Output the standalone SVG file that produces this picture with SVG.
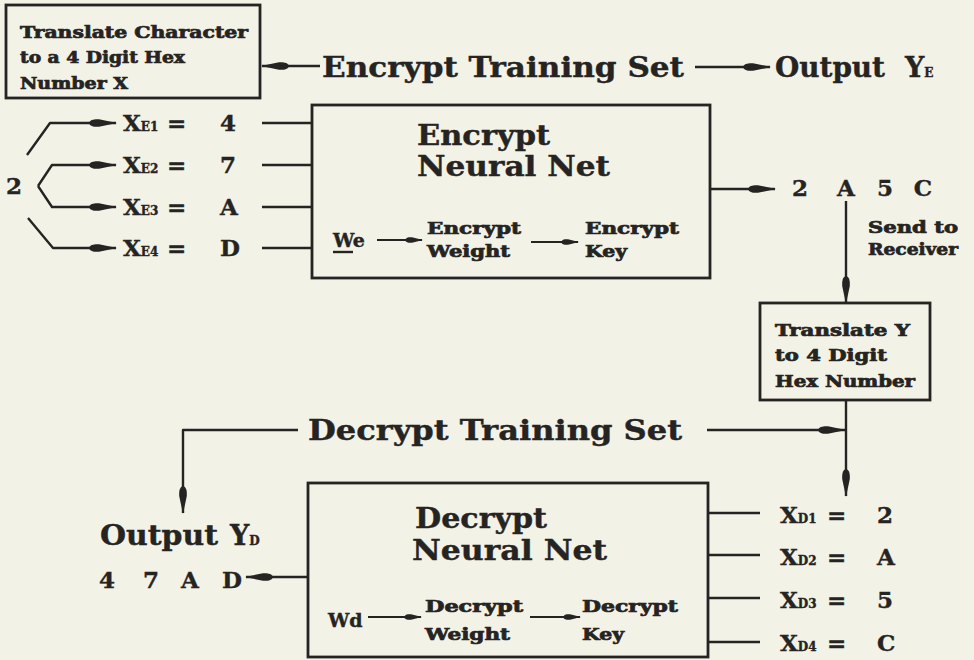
<svg xmlns="http://www.w3.org/2000/svg" width="974" height="660" viewBox="0 0 974 660">
<defs>
<marker id="ah" markerUnits="userSpaceOnUse" viewBox="0 0 28 10" markerWidth="28" markerHeight="10" refX="27" refY="5" orient="auto">
<path d="M0,5 C1,1.5 5,1 10,1.2 L28,5 L10,8.8 C5,9 1,8.5 0,5 Z" fill="#262422"/>
</marker>
<marker id="ahs" markerUnits="userSpaceOnUse" viewBox="0 0 18 8" markerWidth="18" markerHeight="8" refX="17" refY="4" orient="auto">
<path d="M0,4 C1,1.2 4,1 7,1.2 L18,4 L7,6.8 C4,7 1,6.8 0,4 Z" fill="#262422"/>
</marker>
<style>
.bg{fill:#f3f2e7}
.box{fill:none;stroke:#262422;stroke-width:2.8}
.ln{fill:none;stroke:#262422;stroke-width:2.4;stroke-linejoin:round}
.arr{fill:none;stroke:#262422;stroke-width:2.4;stroke-linejoin:round;marker-end:url(#ah)}
.arrs{fill:none;stroke:#262422;stroke-width:2.2;marker-end:url(#ahs)}
text{font-family:"DejaVu Serif","Liberation Serif",serif;font-weight:bold;fill:#262422;stroke:#262422;stroke-width:0.4}
.big{font-size:27px}
.mid{font-size:23px}
.sm{font-size:16px;stroke-width:0.7}
.sub{font-size:12px}
</style>
</defs>
<rect class="bg" x="0" y="0" width="974" height="660"/>

<g id="translate-character">
<rect class="box" x="6" y="5" width="254" height="93"/>
<text class="sm" x="20" y="38" textLength="228" lengthAdjust="spacingAndGlyphs">Translate Character</text>
<text class="sm" x="20" y="63" textLength="165" lengthAdjust="spacingAndGlyphs">to a 4 Digit Hex</text>
<text class="sm" x="20" y="89" textLength="108" lengthAdjust="spacingAndGlyphs">Number X</text>
</g>

<g id="encrypt-training-set">
<text class="big" x="322" y="77" textLength="362" lengthAdjust="spacingAndGlyphs">Encrypt Training Set</text>
</g>

<g id="output-ye">
<text class="big" x="775" y="77" textLength="110" lengthAdjust="spacingAndGlyphs">Output</text>
<text class="big" x="905" y="77">Y<tspan class="sub">E</tspan></text>
</g>

<g id="encrypt-inputs">
<text class="mid" x="6" y="194">2</text>
<text class="mid" x="123" y="131">X<tspan class="sub">E1</tspan></text>
<text class="mid" x="167" y="131">=</text>
<text class="mid" x="220" y="131">4</text>
<text class="mid" x="123" y="173">X<tspan class="sub">E2</tspan></text>
<text class="mid" x="167" y="173">=</text>
<text class="mid" x="220" y="173">7</text>
<text class="mid" x="123" y="215">X<tspan class="sub">E3</tspan></text>
<text class="mid" x="167" y="215">=</text>
<text class="mid" x="220" y="215">A</text>
<text class="mid" x="123" y="256">X<tspan class="sub">E4</tspan></text>
<text class="mid" x="167" y="256">=</text>
<text class="mid" x="220" y="256">D</text>
</g>

<g id="encrypt-neural-net">
<rect class="box" x="312" y="105" width="398" height="173"/>
<text class="big" x="417" y="145" textLength="133" lengthAdjust="spacingAndGlyphs">Encrypt</text>
<text class="big" x="417" y="176" textLength="193" lengthAdjust="spacingAndGlyphs">Neural Net</text>
<text x="333" y="247" font-size="19">We</text>
<line class="ln" x1="333" y1="252" x2="353" y2="252"/>
<text class="sm" x="427" y="234" textLength="94" lengthAdjust="spacingAndGlyphs">Encrypt</text>
<text class="sm" x="427" y="257" textLength="83" lengthAdjust="spacingAndGlyphs">Weight</text>
<text class="sm" x="585" y="234" textLength="94" lengthAdjust="spacingAndGlyphs">Encrypt</text>
<text class="sm" x="585" y="257" textLength="42" lengthAdjust="spacingAndGlyphs">Key</text>
</g>

<g id="cipher-output">
<text class="mid" x="800" y="196" text-anchor="middle">2</text>
<text class="mid" x="846" y="196" text-anchor="middle">A</text>
<text class="mid" x="885" y="196" text-anchor="middle">5</text>
<text class="mid" x="923" y="196" text-anchor="middle">C</text>
</g>

<g id="send-to-receiver">
<text class="sm" x="868" y="233" textLength="90" lengthAdjust="spacingAndGlyphs">Send to</text>
<text class="sm" x="868" y="255" textLength="90" lengthAdjust="spacingAndGlyphs">Receiver</text>
</g>

<g id="translate-y">
<rect class="box" x="760" y="303" width="170" height="97"/>
<text class="sm" x="775" y="336" textLength="135" lengthAdjust="spacingAndGlyphs">Translate Y</text>
<text class="sm" x="775" y="361" textLength="112" lengthAdjust="spacingAndGlyphs">to 4 Digit</text>
<text class="sm" x="775" y="387" textLength="140" lengthAdjust="spacingAndGlyphs">Hex Number</text>
</g>

<g id="decrypt-training-set">
<text class="big" x="308" y="440" textLength="374" lengthAdjust="spacingAndGlyphs">Decrypt Training Set</text>
</g>

<g id="output-yd">
<text class="big" x="100" y="545" textLength="118" lengthAdjust="spacingAndGlyphs">Output</text>
<text class="big" x="230" y="545">Y<tspan class="sub">D</tspan></text>
<text class="mid" x="107" y="588" text-anchor="middle">4</text>
<text class="mid" x="151" y="588" text-anchor="middle">7</text>
<text class="mid" x="190" y="588" text-anchor="middle">A</text>
<text class="mid" x="232" y="588" text-anchor="middle">D</text>
</g>

<g id="decrypt-neural-net">
<rect class="box" x="308" y="483" width="400" height="174"/>
<text class="big" x="415" y="528" textLength="132" lengthAdjust="spacingAndGlyphs">Decrypt</text>
<text class="big" x="412" y="560" textLength="195" lengthAdjust="spacingAndGlyphs">Neural Net</text>
<text x="328" y="627" font-size="19">Wd</text>
<text class="sm" x="425" y="612" textLength="98" lengthAdjust="spacingAndGlyphs">Decrypt</text>
<text class="sm" x="425" y="640" textLength="85" lengthAdjust="spacingAndGlyphs">Weight</text>
<text class="sm" x="582" y="612" textLength="96" lengthAdjust="spacingAndGlyphs">Decrypt</text>
<text class="sm" x="582" y="640" textLength="42" lengthAdjust="spacingAndGlyphs">Key</text>
</g>

<g id="decrypt-inputs">
<text class="mid" x="780" y="523">X<tspan class="sub">D1</tspan></text>
<text class="mid" x="827" y="523">=</text>
<text class="mid" x="877" y="523">2</text>
<text class="mid" x="780" y="565">X<tspan class="sub">D2</tspan></text>
<text class="mid" x="827" y="565">=</text>
<text class="mid" x="877" y="565">A</text>
<text class="mid" x="780" y="608">X<tspan class="sub">D3</tspan></text>
<text class="mid" x="827" y="608">=</text>
<text class="mid" x="877" y="608">5</text>
<text class="mid" x="780" y="651">X<tspan class="sub">D4</tspan></text>
<text class="mid" x="827" y="651">=</text>
<text class="mid" x="877" y="651">C</text>
</g>

<g id="connectors">
<line class="arr" x1="320" y1="66" x2="262" y2="66"/>
<line class="arr" x1="695" y1="67" x2="770" y2="67"/>
<path class="arr" d="M27,155 L50,123 L116,123"/>
<path class="arr" d="M38,186 L52,165 L116,165"/>
<path class="arr" d="M38,186 L52,207 L116,207"/>
<path class="arr" d="M28,218 L53,248 L116,248"/>
<line class="ln" x1="262" y1="123" x2="312" y2="123"/>
<line class="ln" x1="262" y1="165" x2="312" y2="165"/>
<line class="ln" x1="262" y1="207" x2="312" y2="207"/>
<line class="ln" x1="262" y1="248" x2="312" y2="248"/>
<line class="arrs" x1="377" y1="240" x2="422" y2="240"/>
<line class="arrs" x1="531" y1="242" x2="578" y2="242"/>
<line class="arr" x1="710" y1="189" x2="775" y2="189"/>
<line class="arr" x1="846" y1="201" x2="846" y2="303"/>
<line class="arr" x1="846" y1="400" x2="846" y2="496"/>
<line class="arr" x1="707" y1="430" x2="845" y2="430"/>
<path class="arr" d="M298,430 L183,430 L183,513"/>
<line class="arr" x1="308" y1="577" x2="246" y2="577"/>
<line class="arrs" x1="368" y1="617" x2="421" y2="617"/>
<line class="arrs" x1="530" y1="617" x2="580" y2="617"/>
<line class="ln" x1="708" y1="513" x2="760" y2="513"/>
<line class="ln" x1="708" y1="555" x2="760" y2="555"/>
<line class="ln" x1="708" y1="598" x2="760" y2="598"/>
<line class="ln" x1="708" y1="642" x2="760" y2="642"/>
</g>
</svg>
